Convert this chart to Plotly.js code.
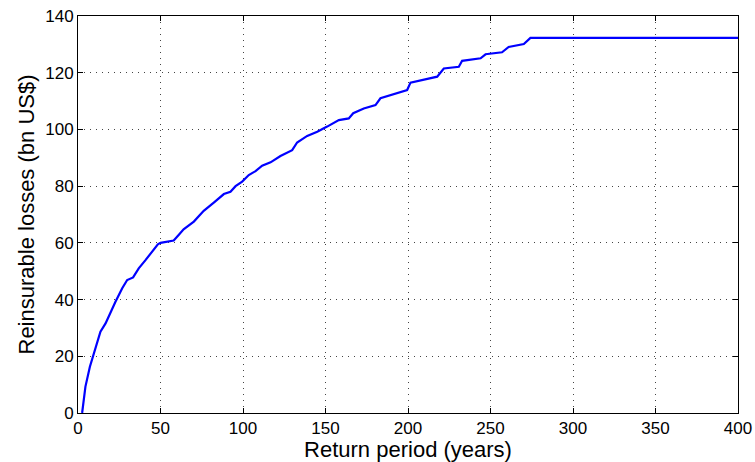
<!DOCTYPE html>
<html>
<head>
<meta charset="utf-8">
<script src="https://cdn.plot.ly/plotly-3.0.1.min.js"></script>
<style>html,body{margin:0;padding:0;background:#fff;}#chart{width:755px;height:462px;}</style>
</head>
<body>
<div id="chart"></div>
<script>
const returnPeriod = [2.5, 3.2, 4.5, 7.2, 10.6, 13.6, 16.7, 19.7, 22.7, 26.8, 29.8, 33.4, 36.8, 40.9, 45, 48.4, 50, 58, 61, 64, 70.2, 76.2, 82.3, 88.4, 92.4, 95.5, 99.5, 103.5, 107.6, 111.6, 116.7, 122.7, 129.8, 132.8, 138.9, 145, 151, 158.1, 164.1, 166.8, 173.2, 180.3, 183.3, 191.4, 199.5, 201.5, 208.6, 217.7, 221.7, 230.8, 232.8, 244, 247, 257, 261, 270.2, 274.2, 400];
const losses = [0, 3.5, 9.3, 16.3, 23.4, 28.7, 31.6, 35.7, 39.2, 44, 46.9, 47.8, 51, 53.9, 56.9, 59.5, 60, 60.8, 62.8, 64.8, 67.5, 71.3, 74.2, 77.2, 78, 80, 81.6, 83.9, 85.3, 87.2, 88.4, 90.6, 92.7, 95.4, 97.7, 99.2, 101, 103.3, 103.9, 105.7, 107.4, 108.6, 111, 112.5, 113.9, 116.5, 117.4, 118.6, 121.5, 122.1, 124.2, 125.1, 126.5, 127.2, 129.1, 130.1, 132.3, 132.3];
const xTicks = [0, 50, 100, 150, 200, 250, 300, 350, 400];
const yTicks = [0, 20, 40, 60, 80, 100, 120, 140];

const fam = 'Liberation Sans, Arial, sans-serif';
const axisCommon = {
  showline: true, linecolor: '#000', linewidth: 1, mirror: 'ticks',
  ticks: 'inside', ticklen: 5, tickcolor: '#000', tickwidth: 1,
  showgrid: true, gridcolor: '#444', griddash: '1px,5px', gridwidth: 1,
  zeroline: false, tickfont: {family: fam, size: 17, color: '#000'}
};
Plotly.newPlot('chart', [{
  x: returnPeriod, y: losses, type: 'scatter', mode: 'lines',
  line: {color: '#0000ff', width: 2.2}, hoverinfo: 'skip'
}], {
  width: 755, height: 462,
  margin: {l: 78, r: 17, t: 16, b: 49},
  paper_bgcolor: '#fff', plot_bgcolor: '#fff',
  showlegend: false,
  xaxis: Object.assign({}, axisCommon, {
    range: [0, 400], tickvals: xTicks, ticktext: xTicks.map(String),
    title: {text: 'Return period (years)', font: {family: fam, size: 22, color: '#000'}, standoff: 0}
  }),
  yaxis: Object.assign({}, axisCommon, {
    range: [0, 140], tickvals: yTicks, ticktext: yTicks.map(String),
    title: {text: 'Reinsurable losses (bn US$)', font: {family: fam, size: 22, color: '#000'}, standoff: 4}
  })
}, {staticPlot: true});
</script>
</body>
</html>
